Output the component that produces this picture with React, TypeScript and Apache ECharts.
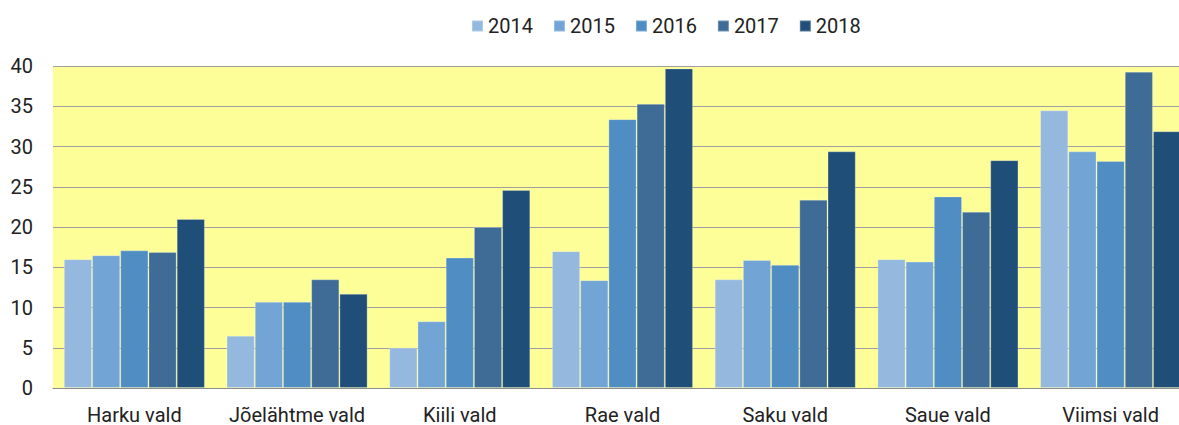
import React, { useEffect, useRef } from "react";
import * as echarts from "echarts";

const categories = ["Harku vald", "Jõelähtme vald", "Kiili vald", "Rae vald", "Saku vald", "Saue vald", "Viimsi vald"];
const years = ["2014", "2015", "2016", "2017", "2018"];
const v2014 = [16.0, 6.5, 5.0, 17.0, 13.5, 16.0, 34.5];
const v2015 = [16.5, 10.7, 8.3, 13.4, 15.9, 15.7, 29.4];
const v2016 = [17.1, 10.7, 16.2, 33.4, 15.3, 23.8, 28.2];
const v2017 = [16.9, 13.5, 20.0, 35.3, 23.4, 21.9, 39.3];
const v2018 = [21.0, 11.7, 24.6, 39.7, 29.4, 28.3, 31.9];
const colors = ["#95B8DF", "#72A5D6", "#508DC3", "#3F6C96", "#1F4E79"];

export default function App() {
  const ref = useRef<HTMLDivElement>(null);
  useEffect(() => {
    const chart = echarts.init(ref.current!, null, { renderer: "svg" });
    const values = [v2014, v2015, v2016, v2017, v2018];
    const font = "Roboto";
    chart.setOption({
      animation: false,
      backgroundColor: "#ffffff",
      color: colors,
      legend: {
        top: 11,
        left: 466,
        itemWidth: 11,
        itemHeight: 11,
        itemGap: 20,
        icon: "rect",
        textStyle: { fontFamily: font, fontSize: 20, color: "#222" },
        data: years,
      },
      grid: {
        left: 53,
        right: 0,
        top: 66,
        bottom: 37,
        show: true,
        backgroundColor: "#FEFE99",
        borderWidth: 0,
      },
      xAxis: {
        type: "category",
        data: categories,
        axisLine: { show: true, lineStyle: { color: "#8C8C8C", width: 1 } },
        axisTick: { show: false },
        axisLabel: { fontFamily: font, fontSize: 20, color: "#222", margin: 17, interval: 0 },
      },
      yAxis: {
        type: "value",
        min: 0,
        max: 40,
        interval: 5,
        axisLine: { show: false },
        axisTick: { show: false },
        axisLabel: { fontFamily: font, fontSize: 20, color: "#222", margin: 20 },
        splitLine: { show: true, lineStyle: { color: "#A0A0A0", width: 1 } },
      },
      series: years.map((y, i) => ({
        name: y,
        type: "bar",
        data: values[i],
        barGap: "0%",
        barCategoryGap: "13.3%",
        itemStyle: { color: colors[i], borderColor: "rgba(255,255,255,0.25)", borderWidth: 1 },
      })),
    });
    return () => chart.dispose();
  }, []);
  return (
    <div style={{ position: "fixed", left: 0, top: 0, width: 1179, height: 425, overflow: "hidden" }}>
      <div ref={ref} style={{ width: 1192, height: 425 }} />
    </div>
  );
}
